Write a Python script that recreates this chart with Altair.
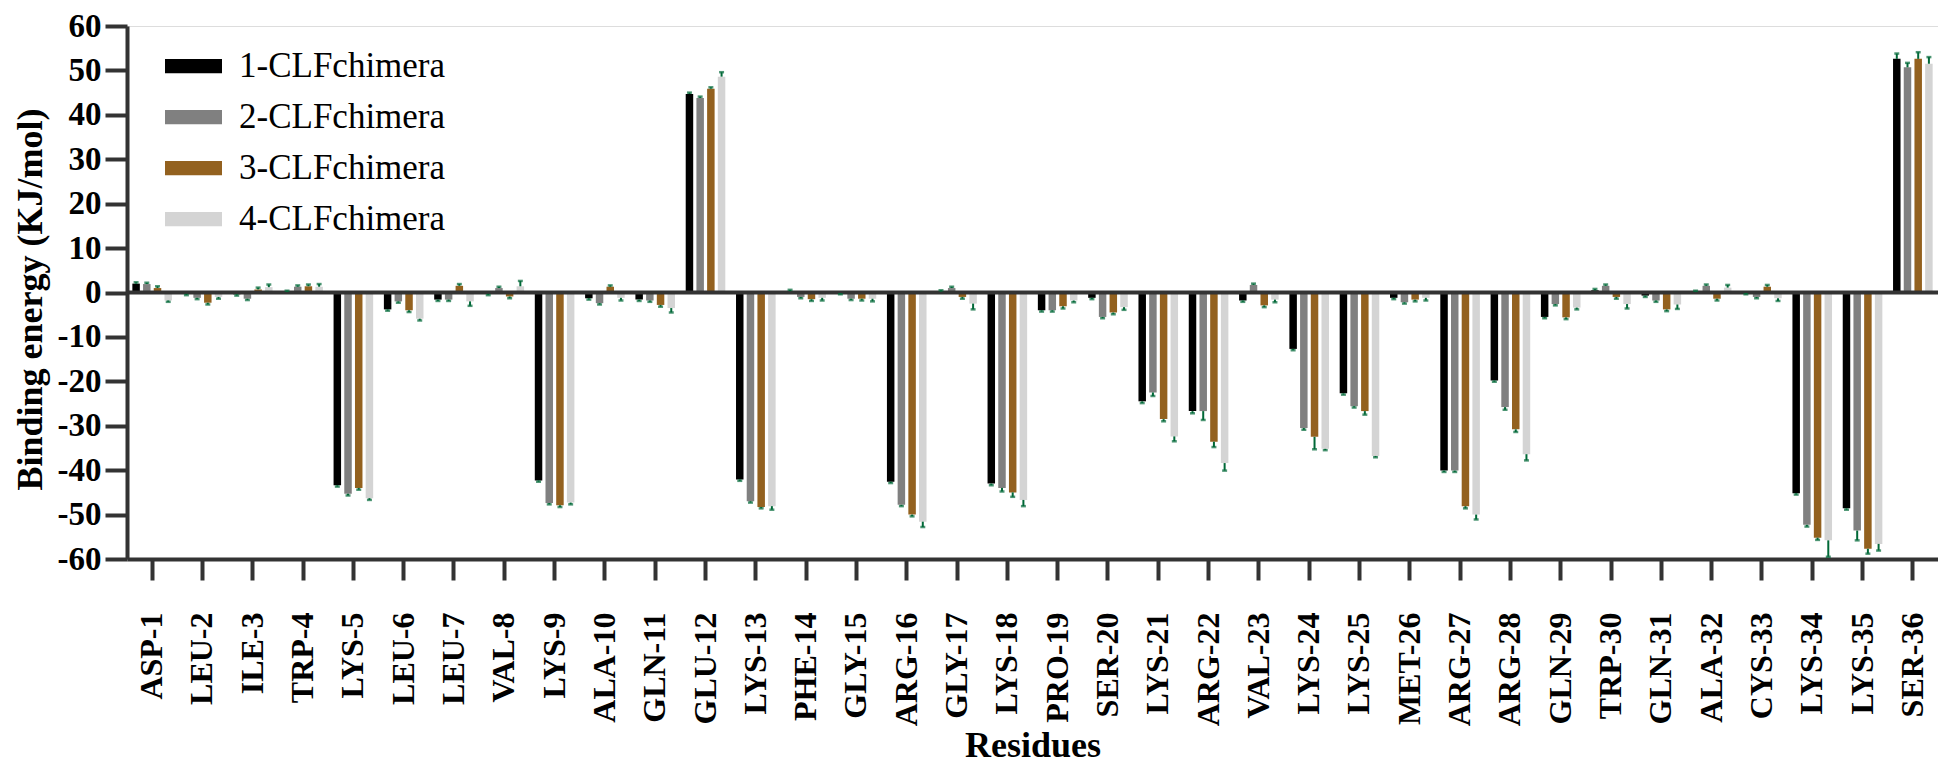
import altair as alt
import pandas as pd

residues = ["ASP-1", "LEU-2", "ILE-3", "TRP-4", "LYS-5", "LEU-6", "LEU-7", "VAL-8", "LYS-9",
            "ALA-10", "GLN-11", "GLU-12", "LYS-13", "PHE-14", "GLY-15", "ARG-16", "GLY-17",
            "LYS-18", "PRO-19", "SER-20", "LYS-21", "ARG-22", "VAL-23", "LYS-24", "LYS-25",
            "MET-26", "ARG-27", "ARG-28", "GLN-29", "TRP-30", "GLN-31", "ALA-32", "CYS-33",
            "LYS-34", "LYS-35", "SER-36"]

series_names = ["1-CLFchimera", "2-CLFchimera", "3-CLFchimera", "4-CLFchimera"]
series_colors = ["#000000", "#808080", "#93611F", "#D4D4D4"]

s1 = [2.0, -0.3, -0.4, 0.1, -43.4, -3.8, -1.6, -0.3, -42.3, -1.3, -1.6, 44.7, -42.1, 0.3, -0.1,
      -42.6, 0.2, -43.0, -4.0, -1.2, -24.5, -26.7, -1.8, -12.7, -22.7, -1.2, -40.1, -19.8, -5.5,
      0.5, -0.7, 0.1, -0.1, -45.2, -48.6, 52.6]
s2 = [1.9, -1.2, -1.4, 1.3, -45.3, -2.0, -1.6, 1.0, -47.4, -2.4, -1.8, 43.8, -47.0, -1.0, -1.4,
      -47.8, 1.0, -44.0, -4.0, -5.5, -22.5, -26.7, 1.7, -30.5, -25.6, -2.2, -40.1, -25.8, -2.6,
      1.5, -1.8, 1.5, -1.0, -52.3, -53.6, 50.7]
s3 = [1.0, -2.3, 0.7, 1.4, -44.0, -4.0, 1.5, -0.9, -47.9, 1.3, -2.8, 45.9, -48.3, -1.5, -1.4,
      -50.0, -1.0, -45.0, -3.1, -4.5, -28.5, -33.6, -2.9, -32.5, -26.7, -1.6, -48.1, -30.8, -5.6,
      -1.0, -3.8, -1.4, 1.3, -55.2, -57.7, 52.6]
s4 = [-1.8, -1.0, 1.2, 1.3, -46.3, -5.9, -2.0, 1.4, -47.3, -1.2, -3.5, 48.6, -48.1, -1.2, -1.4,
      -51.6, -2.5, -46.7, -1.8, -3.3, -32.4, -38.4, -1.6, -35.2, -36.8, -1.2, -50.0, -36.4, -3.4,
      -2.6, -2.7, 1.1, -1.3, -55.8, -56.6, 51.5]

e1 = [0.3, 0.3, 0.3, 0.3, 0.3, 0.3, 0.3, 0.3, 0.3, 0.3, 0.3, 0.3, 0.3, 0.3, 0.3,
      0.3, 0.3, 0.4, 0.3, 0.3, 0.4, 0.5, 0.3, 0.3, 0.3, 0.3, 0.3, 0.3, 0.3,
      0.3, 0.3, 0.3, 0.3, 0.3, 0.3, 1.2]
e2 = [0.3, 0.3, 0.3, 0.3, 0.4, 0.3, 0.3, 0.3, 0.3, 0.3, 0.3, 0.3, 0.3, 0.3, 0.3,
      0.3, 0.3, 0.8, 0.3, 0.3, 0.8, 2.0, 0.3, 0.4, 0.3, 0.3, 0.3, 0.6, 0.3,
      0.3, 0.3, 0.3, 0.3, 0.4, 2.2, 1.0]
e3 = [0.4, 0.4, 0.4, 0.4, 0.4, 0.4, 0.4, 0.4, 0.4, 0.3, 0.4, 0.3, 0.3, 0.4, 0.4,
      0.4, 0.4, 1.0, 0.5, 0.4, 0.5, 1.2, 0.4, 2.8, 0.8, 0.4, 0.5, 0.6, 0.4,
      0.4, 0.4, 0.4, 0.4, 0.5, 1.1, 1.5]
e4 = [0.3, 0.4, 0.6, 0.6, 0.4, 0.4, 1.0, 1.2, 0.4, 0.6, 1.0, 1.0, 0.8, 0.6, 0.6,
      1.2, 1.3, 1.4, 0.4, 0.6, 1.1, 1.7, 0.6, 0.3, 0.3, 0.6, 1.1, 1.4, 0.4,
      1.0, 1.0, 0.6, 0.6, 3.7, 1.5, 1.5]

rows = []
for name, vals, errs in zip(series_names, [s1, s2, s3, s4], [e1, e2, e3, e4]):
    for r, v, e in zip(residues, vals, errs):
        sign = 1 if v >= 0 else -1
        rows.append({"residue": r, "series": name, "value": v, "end": v + sign * e})
df = pd.DataFrame(rows)

FONT = "Liberation Serif"
AX = "#333333"
ERR = "#006837"

x_axis = alt.Axis(title="Residues", labelAngle=-90, labelPadding=32, titlePadding=3,
                  tickSize=21)
y_axis = alt.Axis(title="Binding energy (KJ/mol)", values=list(range(-60, 61, 10)),
                  labelExpr="datum.value < 0 ? '-' + abs(datum.value) : '' + datum.value",
                  labelPadding=4, tickSize=22, titleX=-78, titleY=273,
                  titleBaseline="bottom", titleAngle=270)

x_scale = alt.Scale(paddingInner=0, paddingOuter=0)
xo_scale = alt.Scale(paddingInner=0.3, paddingOuter=0.5)
y_scale = alt.Scale(domain=[-60, 60], nice=False)


def xenc():
    return alt.X("residue:N", sort=residues, scale=x_scale, axis=x_axis)


def xoenc():
    return alt.XOffset("series:N", sort=series_names, scale=xo_scale)


base = alt.Chart(df)

bars = base.mark_bar().encode(
    x=xenc(),
    xOffset=xoenc(),
    y=alt.Y("value:Q", scale=y_scale, axis=y_axis),
    color=alt.Color("series:N", sort=series_names,
                    scale=alt.Scale(domain=series_names, range=series_colors),
                    legend=alt.Legend(title=None, orient="none", legendX=38, legendY=20,
                                      symbolType="M-1,-0.25H1V0.25H-1Z", symbolSize=3249,
                                      symbolStrokeWidth=0, clipHeight=40, rowPadding=11,
                                      labelFont=FONT, labelFontSize=35, labelColor="#000000",
                                      labelOffset=17, labelLimit=0, padding=0)),
)

zero = alt.Chart(pd.DataFrame({"z": [0]})).mark_rule(color=AX, strokeWidth=4).encode(
    y=alt.Y("z:Q", scale=y_scale, axis=y_axis)
)

err_rule = base.mark_rule(color=ERR, strokeWidth=2).encode(
    x=xenc(),
    xOffset=xoenc(),
    y=alt.Y("value:Q", scale=y_scale, axis=y_axis),
    y2="end:Q",
)

caps = base.mark_tick(color=ERR, size=5, thickness=2.5, orient="horizontal").encode(
    x=xenc(),
    xOffset=xoenc(),
    y=alt.Y("end:Q", scale=y_scale, axis=y_axis),
)

chart = alt.layer(bars, zero, err_rule, caps).properties(
    width=1811, height=533,
    autosize=alt.AutoSizeParams(type="none"),
    padding={"left": 119, "top": 18, "right": 0, "bottom": 208},
).configure_view(stroke=None).configure(background="white").configure_axis(
    labelFont=FONT, labelFontWeight="bold", labelColor="#000000",
    titleFont=FONT, titleFontWeight="bold", titleColor="#000000",
    domainColor=AX, domainWidth=4, tickColor=AX, tickWidth=4, grid=False,
).configure_axisX(
    labelFontSize=32, titleFontSize=36,
).configure_axisY(
    labelFontSize=33, titleFontSize=36,
)

chart.save("out.html", embed_options={"renderer": "svg", "actions": False})
